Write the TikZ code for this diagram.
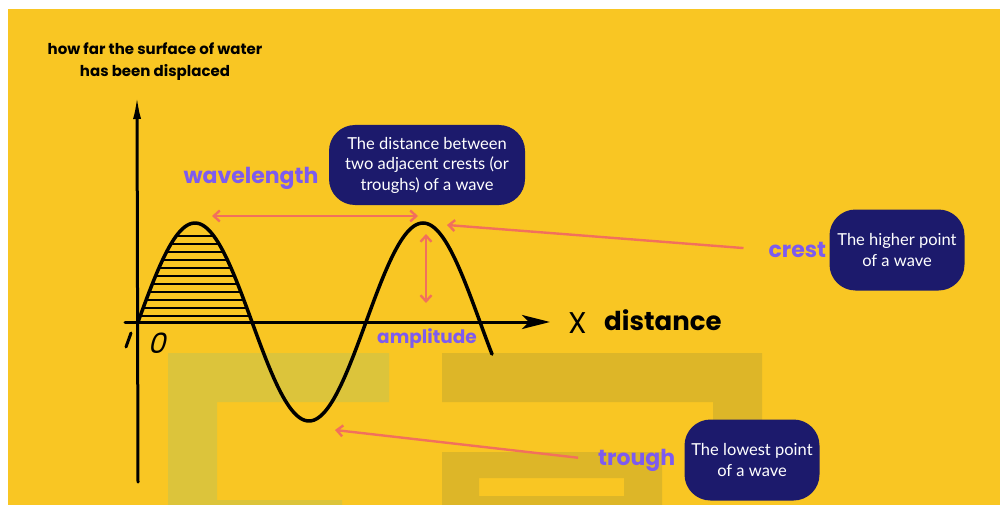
\documentclass[tikz,border=0pt]{standalone}
\usepackage{fontspec}
\setmainfont{Lato}
\newfontfamily\labelfont{Poppins}
\usetikzlibrary{arrows.meta, positioning}
\definecolor{bgyellow}{HTML}{F9C623}
\definecolor{markleft}{HTML}{DCC43B}
\definecolor{markright}{HTML}{DDB628}
\definecolor{navybox}{HTML}{1C1A6C}
\definecolor{tagpurple}{HTML}{7D5BEF}
\definecolor{coral}{HTML}{F2705C}

\begin{document}
\begin{tikzpicture}[
        x=1pt, y=-1pt,
        infobox/.style={fill=navybox, text=white, rounded corners=26pt, align=center, inner sep=3pt, font=\fontsize{16.5}{20.5}\selectfont},
        tag/.style={text=tagpurple, inner sep=0pt, font=\labelfont\bfseries\fontsize{22}{22}\selectfont},
        handtext/.style={text=black, inner sep=0pt, font=\labelfont\bfseries},
        axis/.style={line width=3pt, line cap=round},
        wave/.style={line width=3.5pt, line cap=round},
        hatch/.style={line width=1.3pt},
        arr/.style={-{Straight Barb[length=6pt,width=11pt]}, coral, line width=2.4pt},
        arrboth/.style={{Straight Barb[length=6pt,width=11pt]}-{Straight Barb[length=6pt,width=11pt]}, coral, line width=2.4pt}
        ]
        \useasboundingbox (0,0) rectangle (1000,505);
        \fill[white] (0,0) rectangle (1000,505);
        \fill[bgyellow] (8,9) rectangle (1000,505);
        % faint logo behind the graph
        \fill[markleft] (168,353) rectangle (389,402) (168,402) rectangle (217,505) (217,500) rectangle (342,505);
        \fill[markright, even odd rule] (442,353) rectangle (762,402) (713,402) rectangle (762,452)
            (442,452) rectangle (662,505) (479,478) rectangle (624,496);

        % axes
        \coordinate (xstart) at (125,322);
        \coordinate (xend) at (550,322);
        \coordinate (ystart) at (138,482);
        \coordinate (yend) at (137,95);
        \draw[axis, -{Stealth[length=28pt,width=14pt,inset=7pt]}] (xstart) -- (xend);
        \draw[axis, -{Latex[length=24pt,width=8pt]}] (ystart) -- (yend);
        \draw[axis] (126,347) -- (131,333);

        % the wave and the shaded first crest
        \draw[wave] plot[domain=138:492, samples=160] (\x, {322-99*sin(1.5789*(\x-138))});
        \begin{scope}
            \clip plot[domain=138:252, samples=60] (\x, {322-99*sin(1.5789*(\x-138))}) -- cycle;
            \foreach \y in {236,244,...,316}
                \draw[hatch] (130,\y) -- (260,\y);
        \end{scope}

        \node[handtext, align=center, font=\labelfont\bfseries\fontsize{15}{22}\selectfont] (ylabel) at (155,62) {how far the surface of water\\has been displaced};
        \node[handtext, font=\labelfont\fontsize{30}{30}\selectfont] (xmark) at (578,323) {X};
        \node[handtext, anchor=west, font=\labelfont\bfseries\fontsize{26}{26}\selectfont] (xlabel) at (604,320) {distance};
        \node[handtext, xslant=0.25, font=\labelfont\fontsize{28}{28}\selectfont] (zero) at (159,343) {0};

        % boxes and their labels
        \node[infobox, minimum width=196pt, minimum height=80pt] (wavebox) at (427,165) {The distance between\\two adjacent crests (or\\troughs) of a wave};
        \node[tag] (wavelbl) at (251,178) {wavelength};
        \node[infobox, minimum width=135pt, minimum height=81pt] (crestbox) at (897,250) {The higher point\\of a wave};
        \node[tag, left=3pt of crestbox] (crestlbl) {crest};
        \node[infobox, minimum width=135pt, minimum height=81pt] (troughbox) at (752,460) {The lowest point\\of a wave};
        \node[tag, left=9pt of troughbox] (troughlbl) {trough};
        \node[tag, font=\labelfont\bfseries\fontsize{18.5}{18.5}\selectfont] (amplbl) at (427,339) {amplitude};

        % arrows
        \coordinate (wlstart) at (212,216);
        \coordinate (wlend) at (418,216);
        \coordinate (amptop) at (426,234);
        \coordinate (ampbot) at (426,303);
        \coordinate (crestpt) at (447,225);
        \coordinate (troughpt) at (335,430);
        \draw[arrboth] (wlstart) -- (wlend);
        \draw[arrboth] (amptop) -- (ampbot);
        \draw[arr, shorten <=25pt] (crestlbl.west) -- (crestpt);
        \draw[arr, shorten <=20pt] (troughlbl.west) -- (troughpt);
    \end{tikzpicture}
\end{document}
